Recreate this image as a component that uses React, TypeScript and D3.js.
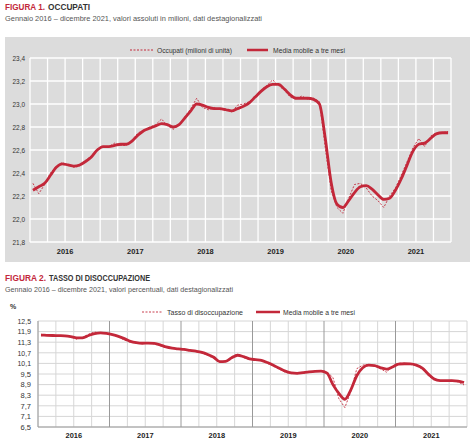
import React from "react";
import * as d3 from "d3";

const years = ["2016", "2017", "2018", "2019", "2020", "2021"];

const occTicks = [21.8, 22.0, 22.2, 22.4, 22.6, 22.8, 23.0, 23.2, 23.4];
const occMonthly = [
  22.31, 22.22, 22.30, 22.40, 22.46, 22.49, 22.47, 22.45, 22.46, 22.51, 22.55, 22.61,
  22.63, 22.63, 22.66, 22.64, 22.64, 22.69, 22.75, 22.77, 22.80, 22.82, 22.87, 22.81,
  22.78, 22.82, 22.89, 22.96, 23.05, 22.97, 22.95, 22.97, 22.95, 22.96, 22.93, 22.99,
  23.00, 23.02, 23.07, 23.12, 23.16, 23.21, 23.16, 23.12, 23.06, 23.04, 23.07, 23.04,
  23.05, 23.02, 22.62, 22.25, 22.10, 22.05, 22.18, 22.30, 22.31, 22.27, 22.20, 22.16,
  22.10, 22.20, 22.27, 22.38, 22.50, 22.62, 22.70, 22.63, 22.72, 22.75, 22.75, 22.76,
];
const occMA = [
  22.25, 22.28, 22.31, 22.38, 22.45, 22.48, 22.47, 22.46, 22.47, 22.50, 22.54, 22.60,
  22.63, 22.63, 22.64, 22.65, 22.65, 22.68, 22.73, 22.77, 22.79, 22.81, 22.83, 22.82,
  22.80, 22.82, 22.88, 22.94, 23.00, 22.99, 22.97, 22.96, 22.96, 22.95, 22.94, 22.96,
  22.98, 23.01, 23.06, 23.11, 23.15, 23.17, 23.17, 23.13, 23.08, 23.05, 23.05, 23.05,
  23.04, 23.00, 22.70, 22.32, 22.13, 22.10, 22.16, 22.23, 22.28, 22.29, 22.26, 22.21,
  22.17, 22.18, 22.25, 22.35, 22.47, 22.59, 22.65, 22.66, 22.70, 22.74, 22.75, 22.75,
];

const disTicks = [6.5, 7.1, 7.7, 8.3, 8.9, 9.5, 10.1, 10.7, 11.3, 11.9, 12.5];
const disMonthly = [
  11.75, 11.68, 11.70, 11.65, 11.67, 11.60, 11.47, 11.58, 11.75, 11.88, 11.80, 11.82,
  11.70, 11.60, 11.42, 11.30, 11.25, 11.22, 11.28, 11.20, 11.10, 11.00, 10.95, 10.90,
  10.88, 10.82, 10.78, 10.70, 10.55, 10.38, 10.18, 10.22, 10.48, 10.62, 10.42, 10.32,
  10.30, 10.25, 10.10, 9.95, 9.78, 9.60, 9.52, 9.55, 9.60, 9.62, 9.66, 9.65,
  9.62, 9.30, 8.10, 7.60, 8.50, 9.80, 10.00, 10.05, 9.95, 9.80, 9.60, 9.95,
  10.12, 10.10, 10.05, 9.95, 9.80, 9.40, 9.15, 9.12, 9.10, 9.15, 9.05, 8.88,
];
const disMA = [
  11.70, 11.69, 11.68, 11.67, 11.66, 11.62, 11.55, 11.55, 11.68, 11.79, 11.83, 11.80,
  11.73, 11.63, 11.50, 11.35, 11.27, 11.24, 11.25, 11.23, 11.15, 11.03, 10.96, 10.92,
  10.89, 10.84, 10.79, 10.72, 10.60, 10.45, 10.20, 10.22, 10.42, 10.56, 10.48, 10.36,
  10.31, 10.27, 10.15, 10.00, 9.82, 9.66, 9.56, 9.54, 9.58, 9.62, 9.65, 9.66,
  9.55, 8.90, 8.40, 8.07, 8.60, 9.40, 9.85, 10.00, 9.98, 9.85, 9.78, 9.90,
  10.06, 10.08, 10.07, 10.00, 9.83, 9.50, 9.22, 9.13, 9.12, 9.12, 9.10, 9.02,
];

const RED = "#c3283a";
const FONT = "'Liberation Sans', Arial, Helvetica, sans-serif";

function T(props: any) {
  const { x, y, children, size = 8, weight = 400, fill = "#333", anchor = "start", w } = props;
  const extra = w ? { textLength: w, lengthAdjust: "spacingAndGlyphs" } : {};
  return (
    <text x={x} y={y} fontSize={size} fontWeight={weight} fill={fill} textAnchor={anchor} fontFamily={FONT} {...extra}>
      {children}
    </text>
  );
}

export default function App() {
  const W = 474, H = 441;
  const months = d3.range(72);
  const quarters = d3.range(0, 73, 3);

  // Figure 1
  const x1 = d3.scaleLinear().domain([0, 72]).range([30, 451]);
  const y1 = d3.scaleLinear().domain([21.8, 23.4]).range([242, 58]);
  const l1m = d3.line<number>().x((_, i) => x1(i + 0.5)).y((d) => y1(d));
  const l1a = d3.line<number>().x((_, i) => x1(i + 0.5)).y((d) => y1(d)).curve(d3.curveMonotoneX);

  // Figure 2
  const x2 = d3.scaleLinear().domain([0, 72]).range([38, 467]);
  const y2 = d3.scaleLinear().domain([6.5, 12.5]).range([427, 321]);
  const l2m = d3.line<number>().x((_, i) => x2(i + 0.5)).y((d) => y2(d));
  const l2a = d3.line<number>().x((_, i) => x2(i + 0.5)).y((d) => y2(d)).curve(d3.curveMonotoneX);

  const fmt = (v: number) => v.toFixed(1).replace(".", ",");

  return (
    <svg width={W} height={H} style={{ position: "absolute", left: 0, top: 0, background: "#fff" }}>
      {/* Figure 1 header */}
      <T x={5} y={10} size={9} weight={700} fill={RED} w={40}>FIGURA 1.</T>
      <T x={48} y={10} size={9} weight={700} fill="#333" w={42}>OCCUPATI</T>
      <T x={5} y={21} size={8} fill="#555" w={257}>
        Gennaio 2016 – dicembre 2021, valori assoluti in milioni, dati destagionalizzati
      </T>
      <rect x={5} y={37} width={465} height={225} fill="#dcdcdc" />
      {/* legend 1 */}
      <line x1={130} x2={153} y1={50} y2={50} stroke={RED} strokeWidth={1} strokeDasharray="2,1.5" />
      <T x={157} y={52.5} size={7} fill="#333" w={75}>Occupati (milioni di unità)</T>
      <line x1={247} x2={268} y1={50} y2={50} stroke={RED} strokeWidth={2.5} />
      <T x={273} y={52.5} size={7} fill="#333" w={72}>Media mobile a tre mesi</T>

      {/* grid 1 */}
      {occTicks.map((t) => (
        <line key={"h1" + t} x1={x1(0)} x2={x1(72)} y1={y1(t)} y2={y1(t)} stroke="#fff" strokeWidth={1.3} />
      ))}
      {quarters.map((q) => (
        <line key={"v1" + q} x1={x1(q)} x2={x1(q)} y1={y1(21.8)} y2={y1(23.4)} stroke="#fff" strokeWidth={1.3} />
      ))}
      {occTicks.map((t) => (
        <T key={"t1" + t} x={25} y={y1(t) + 3} size={8} anchor="end" fill="#333" w={12.5}>{fmt(t)}</T>
      ))}
      {years.map((yr, i) => (
        <T key={"y1" + yr} x={x1(i * 12 + 6)} y={254} size={8} weight={700} anchor="middle" fill="#222" w={16.5}>{yr}</T>
      ))}
      <path d={l1m(occMonthly) || ""} fill="none" stroke={RED} strokeWidth={0.9} strokeDasharray="2,1.5" />
      <path d={l1a(occMA) || ""} fill="none" stroke={RED} strokeWidth={2.8} strokeLinejoin="round" />

      {/* Figure 2 header */}
      <T x={5} y={281} size={9} weight={700} fill={RED} w={41}>FIGURA 2.</T>
      <T x={49} y={281} size={9} weight={700} fill="#333" w={101}>TASSO DI DISOCCUPAZIONE</T>
      <T x={5} y={292} size={8} fill="#555" w={228}>
        Gennaio 2016 – dicembre 2021, valori percentuali, dati destagionalizzati
      </T>
      <T x={10} y={309} size={7} weight={700} fill="#333">%</T>
      {/* legend 2 */}
      <line x1={142} x2={163} y1={312} y2={312} stroke={RED} strokeWidth={0.9} strokeDasharray="2,1.5" />
      <T x={167} y={314.5} size={7} fill="#333" w={76}>Tasso di disoccupazione</T>
      <line x1={256} x2={280} y1={312} y2={312} stroke={RED} strokeWidth={2.5} />
      <T x={283} y={314.5} size={7} fill="#333" w={72}>Media mobile a tre mesi</T>

      {/* grid 2 */}
      {disTicks.map((t) => (
        <line key={"h2" + t} x1={x2(0)} x2={x2(72)} y1={y2(t)} y2={y2(t)} stroke="#d6d6d6" strokeWidth={1} />
      ))}
      {quarters.map((q) => (
        <line key={"v2" + q} x1={x2(q)} x2={x2(q)} y1={y2(6.5)} y2={y2(12.5)}
          stroke={q % 12 === 0 && q > 0 && q < 72 ? "#9a9a9a" : "#d6d6d6"} strokeWidth={1} />
      ))}
      <line x1={x2(0)} x2={x2(0)} y1={y2(6.5)} y2={y2(12.5)} stroke="#9a9a9a" strokeWidth={1} />
      <line x1={x2(0)} x2={x2(72)} y1={y2(6.5)} y2={y2(6.5)} stroke="#9a9a9a" strokeWidth={1} />
      {disTicks.map((t) => (
        <T key={"t2" + t} x={31} y={y2(t) + 2.8} size={7.5} anchor="end" fill="#333" w={fmt(t).length > 3 ? 13.5 : 10.5}>{fmt(t)}</T>
      ))}
      {years.map((yr, i) => (
        <T key={"y2" + yr} x={x2(i * 12 + 6)} y={438} size={8} weight={700} anchor="middle" fill="#222" w={16.5}>{yr}</T>
      ))}
      <path d={l2m(disMonthly) || ""} fill="none" stroke={RED} strokeWidth={0.9} strokeDasharray="2,1.5" />
      <path d={l2a(disMA) || ""} fill="none" stroke={RED} strokeWidth={2.8} strokeLinejoin="round" />
      {months.length === 0 ? null : null}
    </svg>
  );
}
